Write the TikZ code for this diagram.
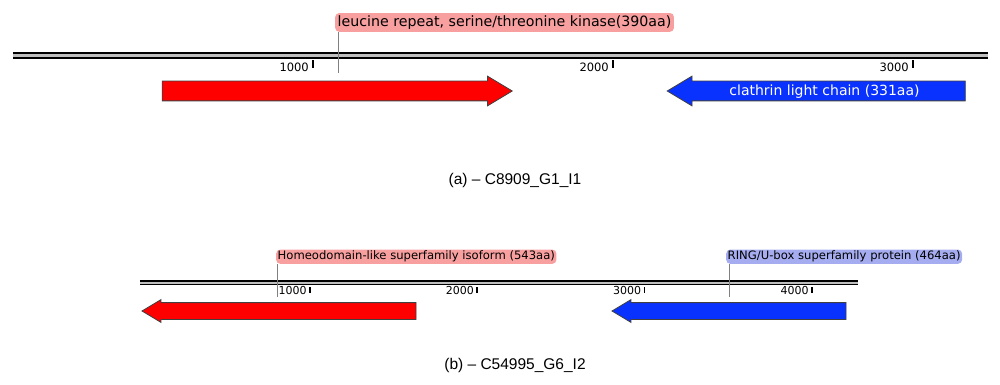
\documentclass[tikz,border=0pt]{standalone}
\usepackage{fontspec}
\setmainfont{Liberation Sans}
\newfontfamily\genefont{DejaVu Sans}
\usetikzlibrary{%
  shapes.arrows,% gene arrows
  positioning%
}

\definecolor{genered}{RGB}{255,0,0}
\definecolor{geneblue}{RGB}{10,50,255}
\definecolor{notepink}{RGB}{248,160,160}
\definecolor{noteblue}{RGB}{165,172,240}

\begin{document}
\begin{tikzpicture}
  [
  x=1pt, y=-1pt,
  backbone/.style={draw=black, double=gray!50, line width=2.5pt, double distance=2.5pt},
  thinbone/.style={backbone, line width=1.7pt, double distance=1.8pt},
  tickmark/.style={draw=black, line width=2pt},
  ticklabel/.style={anchor=south east, inner sep=0pt, font=\genefont\fontsize{11.5}{12}\selectfont},
  genearrow/.style={single arrow, draw=black!75, line width=0.8pt, inner sep=0pt,
    text height=14pt, text depth=5pt,
    minimum width=29pt, single arrow head extend=5pt, single arrow tip angle=62},
  smallarrow/.style={genearrow, text height=8pt, text depth=8pt,
    minimum width=22pt, single arrow head extend=3pt, shape border rotate=180},
  note/.style={anchor=south west, rounded corners=4pt, inner sep=2.5pt,
    font=\genefont\fontsize{14.2}{15}\selectfont},
  smallnote/.style={note, inner sep=1.5pt, font=\genefont\fontsize{11.6}{12}\selectfont},
  leader/.style={draw=gray, line width=0.7pt},
  caption/.style={font=\fontsize{15.5}{17}\selectfont}
  ]
  \useasboundingbox (0,0) rectangle (1000,385);

  % (a) C8909_G1_I1
  \coordinate (a0) at (13,55.5);
  \coordinate (aend) at (988,55.5);
  \draw[backbone] (a0) -- (aend);

  \foreach \k in {1,2,3} {
    \coordinate (ta\k) at (13+300*\k,68);
    \draw[tickmark] (ta\k) -- ++(0,-8);
    \node[ticklabel] (la\k) at ([xshift=-4pt,yshift=-4pt]ta\k) {\k000};
  }

  \node[genearrow, fill=genered, minimum height=350pt] (ga1) at (329,91) {};
  \node[genearrow, fill=geneblue, minimum height=298pt, shape border rotate=180,
    text=white, font=\genefont\fontsize{14}{14}\selectfont] (ga2) at (824.5,91)
    {clathrin light chain (331aa)};

  \node[note, fill=notepink] (na1) at (335,32)
    {leucine repeat, serine/threonine kinase(390aa)};
  \coordinate (leada1) at (338,73);
  \draw[leader] (na1.south west -| leada1) -- (leada1);

  \node[caption] (capa) at (515,180) {(a) -- C8909\_G1\_I1};

  % (b) C54995_G6_I2
  \coordinate (b0) at (140,282.7);
  \coordinate (bend) at (858,282.7);
  \draw[thinbone] (b0) -- (bend);

  \foreach \k in {1,2,3,4} {
    \coordinate (tb\k) at (142.5+167.3*\k,293);
    \draw[tickmark, line width=1.6pt] (tb\k) -- ++(0,-6);
    \node[ticklabel, font=\genefont\fontsize{11}{11}\selectfont] (lb\k)
      at ([xshift=-3pt,yshift=-2pt]tb\k) {\k000};
  }

  \node[smallarrow, fill=genered, minimum height=274pt] (gb1) at (286,311) {};
  \node[smallarrow, fill=geneblue, minimum height=234pt] (gb2) at (736,311) {};

  \node[smallnote, fill=notepink] (nb1) at (276,264)
    {Homeodomain-like superfamily isoform (543aa)};
  \coordinate (leadb1) at (277,297);
  \draw[leader] (nb1.south west -| leadb1) -- (leadb1);

  \node[smallnote, fill=noteblue] (nb2) at (726,264)
    {RING/U-box superfamily protein (464aa)};
  \coordinate (leadb2) at (729,297);
  \draw[leader] (nb2.south west -| leadb2) -- (leadb2);

  \node[caption] (capb) at (515,365) {(b) -- C54995\_G6\_I2};
\end{tikzpicture}
\end{document}
